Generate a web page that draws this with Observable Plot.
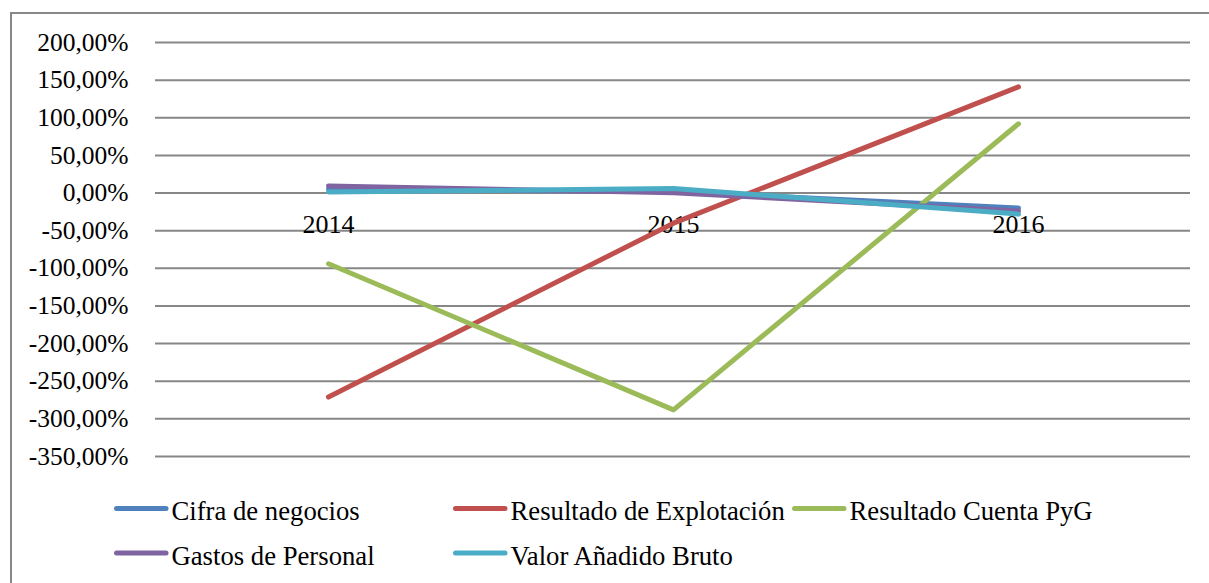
<!DOCTYPE html>
<html>
<head>
<meta charset="utf-8">
<script src="https://cdn.jsdelivr.net/npm/d3@7"></script>
<script src="https://cdn.jsdelivr.net/npm/@observablehq/plot@0.6"></script>
<style>
  html, body { margin: 0; padding: 0; background: #fff; }
  #wrap { position: relative; width: 1209px; height: 583px; overflow: hidden; font-family: "Liberation Serif"; }
  #frame { position: absolute; left: 10px; top: 12px; width: 1240px; height: 600px; border-left: 2px solid #878787; border-top: 2px solid #878787; box-sizing: border-box; }
  #chart { position: absolute; left: 0; top: 0; }
  #legend { position: absolute; left: 0; top: 470px; }
</style>
</head>
<body>
<div id="wrap">
  <div id="frame"></div>
  <div id="chart"></div>
  <svg id="legend" width="1209" height="113" font-family="Liberation Serif"></svg>
</div>
<script>
const years = ["2014", "2015", "2016"];
const seriesNames = ["Cifra de negocios", "Resultado de Explotación", "Resultado Cuenta PyG", "Gastos de Personal", "Valor Añadido Bruto"];
const seriesColors = ["#4F81BD", "#C0504D", "#9BBB59", "#8064A2", "#4BACC6"];
const cifra = [5, 2, -20];
const explotacion = [-271, -40, 141];
const cuentaPyG = [-94, -288, 92];
const gastos = [9.5, 0.5, -24];
const vab = [1.5, 6, -28];
const yTicks = [200, 150, 100, 50, 0, -50, -100, -150, -200, -250, -300, -350];

const allValues = [cifra, explotacion, cuentaPyG, gastos, vab];
const rows = [];
seriesNames.forEach((s, i) => years.forEach((y, j) => rows.push({series: s, year: y, value: allValues[i][j]})));

const fmt = v => v.toFixed(2).replace(".", ",") + "%";
const FONT = "Liberation Serif";

const plot = Plot.plot({
  width: 1209,
  height: 470,
  marginTop: 42,
  marginBottom: 14,
  marginLeft: 155,
  marginRight: 19,
  style: {fontFamily: FONT, fontSize: "25.5px", background: "transparent", color: "#000"},
  x: {type: "point", domain: years, padding: 0.5, axis: null},
  y: {domain: [-350, 200], ticks: yTicks, tickFormat: fmt, label: null},
  color: {domain: seriesNames, range: seriesColors},
  marks: [
    Plot.gridY(yTicks, {stroke: "#878787", strokeOpacity: 1, strokeWidth: 2}),
    Plot.axisY(yTicks, {tickSize: 0, tickPadding: 27, tickFormat: fmt, fontSize: 25.5, fill: "#000", label: null}),
    Plot.text(years, {x: d => d, y: 0, text: d => d, dy: 32, fontSize: 26, fill: "#000"}),
    Plot.line(rows, {x: "year", y: "value", z: "series", stroke: "series", strokeWidth: 5, strokeLinecap: "round", strokeLinejoin: "round"})
  ]
});
plot.setAttribute("font-family", FONT);
document.getElementById("chart").appendChild(plot);

// legend
const legendPos = [
  {x: 114, y: 38.5}, {x: 453, y: 38.5}, {x: 792, y: 38.5},
  {x: 114, y: 83}, {x: 453, y: 83}
];
const lg = d3.select("#legend");
seriesNames.forEach((s, i) => {
  const p = legendPos[i];
  lg.append("line").attr("x1", p.x + 2.5).attr("x2", p.x + 52).attr("y1", p.y).attr("y2", p.y)
    .attr("stroke", seriesColors[i]).attr("stroke-width", 5).attr("stroke-linecap", "round");
  lg.append("text").attr("x", p.x + 57.5).attr("y", p.y + 11.5)
    .attr("font-family", FONT).attr("font-size", 26.7).attr("fill", "#000")
    .text(s);
});
</script>
</body>
</html>
